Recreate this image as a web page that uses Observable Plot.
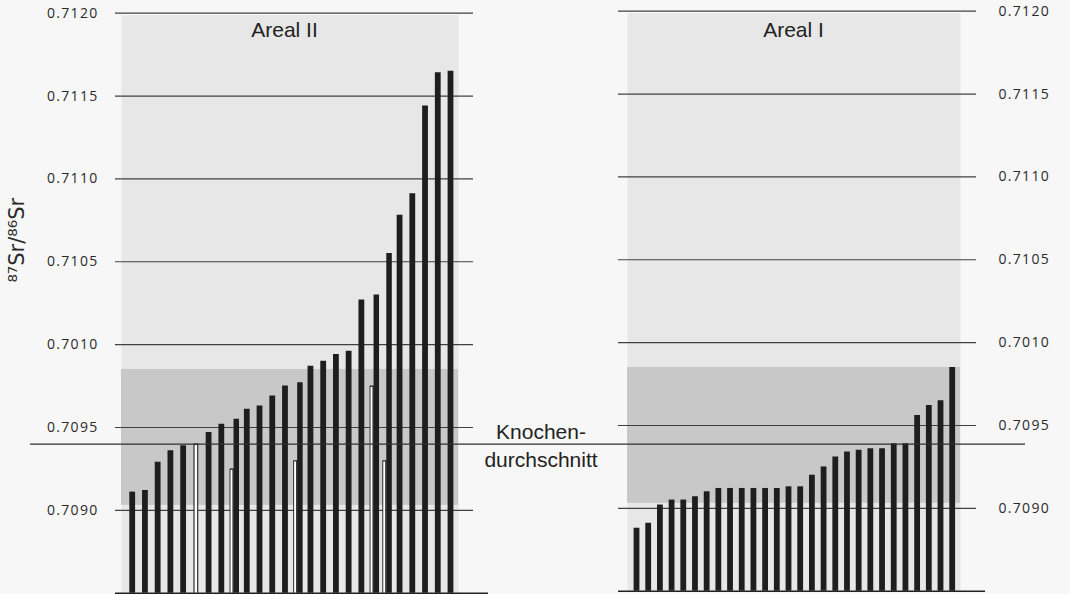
<!DOCTYPE html>
<html><head><meta charset="utf-8">
<script src="https://cdn.jsdelivr.net/npm/d3@7"></script>
<script src="https://cdn.jsdelivr.net/npm/@observablehq/plot@0.6"></script>
<style>
html,body{margin:0;padding:0;background:#f7f7f7;}
#chart{position:relative;width:1070px;height:594px;overflow:hidden;}
#chart > svg{position:absolute;left:0;top:0;}
[aria-label^="y-axis"] text{letter-spacing:1.3px;}
</style></head><body><div id="chart"></div>
<script>
// ---- data ----
const yTicks = [0.7090, 0.7095, 0.7100, 0.7105, 0.7110, 0.7115, 0.7120];
const yTickLabels = ["0.7090", "0.7095", "0.7010", "0.7105", "0.7110", "0.7115", "0.7120"];
const yDomain = [0.7085, 0.7120];
const knochenMean = 0.70940;
const bandRange = [0.70903, 0.70985];
const panelTitles = ["Areal II", "Areal I"];
const yLabel = "⁸⁷Sr/⁸⁶Sr";
const meanLabel = "Knochen-\ndurchschnitt";

// Areal II: black bars (samples 1..26) and white bars
const arealIIBlack = [0.70911, 0.70912, 0.70929, 0.70936, 0.70939, null, 0.70947, 0.70952, 0.70955, 0.70961,
  0.70963, 0.70969, 0.70975, 0.70977, 0.70987, 0.70990, 0.70994, 0.70996, 0.71027, 0.71030,
  0.71055, 0.71078, 0.71091, 0.71144, 0.71164, 0.71165];
const arealIIWhite = [null, null, null, null, null, 0.70940, null, null, 0.70925, null,
  null, null, null, 0.70930, null, null, null, null, null, 0.70975,
  0.70930, null, null, null, null, null];
// Areal I: black bars (samples 1..28)
const arealIBlack = [0.70888, 0.70891, 0.70902, 0.70905, 0.70905, 0.70907, 0.70910, 0.70912, 0.70912, 0.70912,
  0.70912, 0.70912, 0.70912, 0.70913, 0.70913, 0.70920, 0.70925, 0.70931, 0.70934, 0.70935,
  0.70936, 0.70936, 0.70939, 0.70939, 0.70956, 0.70962, 0.70965, 0.70985];

// ---- styles ----
const barColor = "#1e1e1e", lightFill = "#e7e7e7", darkFill = "#c8c8c8", gridColor = "#404040";
const fmt = d => yTickLabels[yTicks.indexOf(d)];
const baseStyle = {background: "transparent", fontFamily: "Open Sans, sans-serif", fontSize: "14px", color: "#2a2a2a"};

const L = arealIIBlack.map((v, i) => ({slot: i + 1, black: v, white: arealIIWhite[i]}));
const R = arealIBlack.map((v, i) => ({slot: i + 1, black: v}));
const y0 = yDomain[0];

const left = Plot.plot({
  width: 1070, height: 594,
  marginLeft: 115, marginRight: 597, marginTop: 12.7, marginBottom: 1.3,
  style: baseStyle,
  x: {domain: [1, 26], range: [131.7, 450], axis: null},
  y: {domain: yDomain, ticks: yTicks, tickFormat: fmt, tickSize: 0, tickPadding: 17, axis: "left", label: null},
  marks: [
    Plot.frame({fill: lightFill, stroke: "none", insetLeft: 6, insetRight: 15, insetTop: 2}),
    Plot.rect([bandRange], {y1: d => d[0], y2: d => d[1], fill: darkFill, insetLeft: 6, insetRight: 15}),
    Plot.ruleY(yTicks, {stroke: gridColor, strokeWidth: 1.2}),
    // white bars paired with a black bar
    Plot.ruleX(L.filter(d => d.white != null && d.black != null), {x: "slot", y1: y0, y2: "white", stroke: barColor, strokeWidth: 4.2, dx: -2.4}),
    Plot.ruleX(L.filter(d => d.white != null && d.black != null), {x: "slot", y1: y0, y2: "white", stroke: "white", strokeWidth: 2.0, dx: -2.6, dy: 1.3}),
    // lone white bar
    Plot.ruleX(L.filter(d => d.white != null && d.black == null), {x: "slot", y1: y0, y2: "white", stroke: barColor, strokeWidth: 4.8}),
    Plot.ruleX(L.filter(d => d.white != null && d.black == null), {x: "slot", y1: y0, y2: "white", stroke: "white", strokeWidth: 2.6, dy: 1.3}),
    // black bars
    Plot.ruleX(L.filter(d => d.black != null && d.white == null), {x: "slot", y1: y0, y2: "black", stroke: barColor, strokeWidth: 5.8}),
    Plot.ruleX(L.filter(d => d.black != null && d.white != null), {x: "slot", y1: y0, y2: "black", stroke: barColor, strokeWidth: 5.5, dx: 2.2}),
    Plot.ruleY([y0], {stroke: "#222", strokeWidth: 1.6, insetRight: -15}),
    Plot.text([panelTitles[0]], {text: d => d, frameAnchor: "top", dx: -10, dy: 17.3, lineAnchor: "middle",
      fontSize: 21, fontFamily: "Liberation Sans, Arial, sans-serif", fill: "#222"})
  ]
});

const right = Plot.plot({
  width: 1070, height: 594,
  marginLeft: 618, marginRight: 94, marginTop: 10.7, marginBottom: 3.3,
  style: baseStyle,
  x: {domain: [1, 28], range: [636, 951.7], axis: null},
  y: {domain: yDomain, ticks: yTicks, tickFormat: fmt, tickSize: 0, tickPadding: 22, axis: "right", label: null},
  marks: [
    Plot.frame({fill: lightFill, stroke: "none", insetLeft: 9, insetRight: 16, insetTop: 2}),
    Plot.rect([bandRange], {y1: d => d[0], y2: d => d[1], fill: darkFill, insetLeft: 9, insetRight: 16}),
    Plot.ruleY(yTicks, {stroke: gridColor, strokeWidth: 1.2}),
    Plot.ruleX(R, {x: "slot", y1: y0, y2: "black", stroke: barColor, strokeWidth: 5.8}),
    Plot.ruleY([y0], {stroke: "#222", strokeWidth: 1.6, insetRight: -9}),
    Plot.text([panelTitles[1]], {text: d => d, frameAnchor: "top", dx: -4, dy: 19.3, lineAnchor: "middle",
      fontSize: 21, fontFamily: "Liberation Sans, Arial, sans-serif", fill: "#222"})
  ]
});

const overlay = Plot.plot({
  width: 1070, height: 594,
  marginLeft: 30, marginRight: 45, marginTop: 12.7, marginBottom: 1.3,
  style: baseStyle,
  y: {domain: yDomain, axis: null},
  marks: [
    Plot.ruleY([knochenMean], {stroke: "#2e2e2e", strokeWidth: 1.3}),
    Plot.text([knochenMean], {y: d => d, text: () => meanLabel, frameAnchor: "middle", dx: 13,
      fontSize: 21, lineHeight: 1.32, fontFamily: "Liberation Sans, Arial, sans-serif", fill: "#222"}),
    Plot.text([yLabel], {text: d => d, frameAnchor: "top-left", dx: -13, dy: 227, rotate: -90,
      textAnchor: "middle", lineAnchor: "middle", fontSize: 21, fontFamily: "DejaVu Sans, sans-serif", fill: "#2a2a2a"})
  ]
});

const chart = document.getElementById("chart");
chart.append(left, right, overlay);
</script></body></html>
